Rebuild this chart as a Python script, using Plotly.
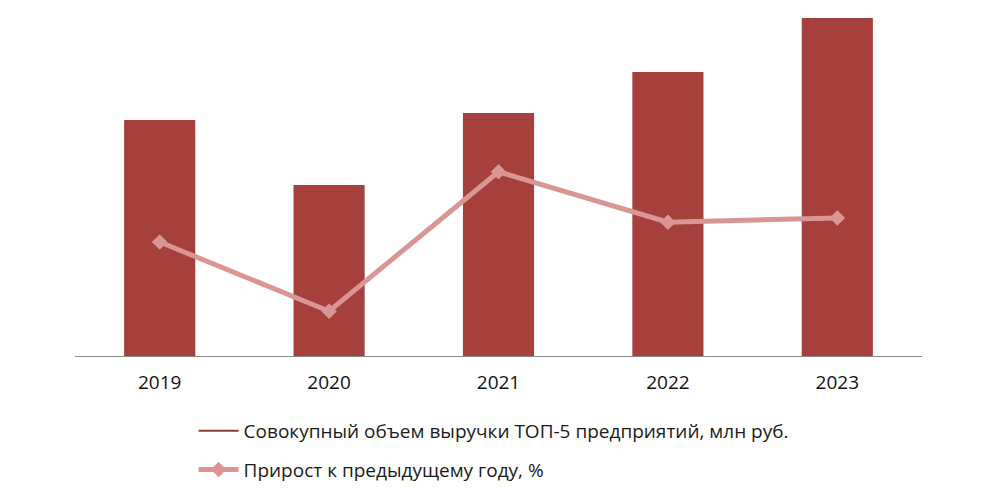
import plotly.graph_objects as go

years = ["2019", "2020", "2021", "2022", "2023"]
revenue = [47200, 34200, 48600, 56800, 67600]
growth = [7.0, -27.6, 42.1, 16.9, 19.0]

bar_name = "Совокупный объем выручки ТОП-5 предприятий, млн руб."
line_name = "Прирост к предыдущему году, %"

fig = go.Figure()
fig.add_trace(go.Bar(x=years, y=revenue, name=bar_name, marker_color="#A5403C",
                     marker_line_width=0, width=0.42, showlegend=False))
# legend entry for bars (drawn as thin line in original)
fig.add_trace(go.Scatter(x=[None], y=[None], mode="lines", name=bar_name,
                         line=dict(color="#8B3A32", width=2), legendgroup="a"))
fig.add_trace(go.Scatter(x=years, y=growth, name=line_name, yaxis="y2",
                         mode="lines+markers", legendgroup="b",
                         line=dict(color="#D99694", width=5),
                         marker=dict(symbol="diamond", size=12, color="#D99694")))

fig.update_layout(
    width=1000, height=493,
    margin=dict(l=75, r=78, t=6, b=137, autoexpand=False),
    plot_bgcolor="white", paper_bgcolor="white",
    font=dict(family="Open Sans", color="#1a1a1a"),
    bargap=0.58,
    xaxis=dict(showline=True, linecolor="#8c8c8c", linewidth=1, ticks="",
               tickfont=dict(size=19, color="#111111"), showgrid=False,
               ticklabelstandoff=9),
    yaxis=dict(range=[0, 70000], visible=False, showgrid=False),
    yaxis2=dict(range=[-50, 125], overlaying="y", visible=False, showgrid=False),
    showlegend=True,
    legend=dict(x=0.14, xanchor="left", y=-0.16, yanchor="top",
                orientation="v", traceorder="grouped", tracegroupgap=11,
                font=dict(size=19, color="#1a1a1a"), itemwidth=40,
                bgcolor="rgba(0,0,0,0)"),
)
fig.write_html("out.html")
